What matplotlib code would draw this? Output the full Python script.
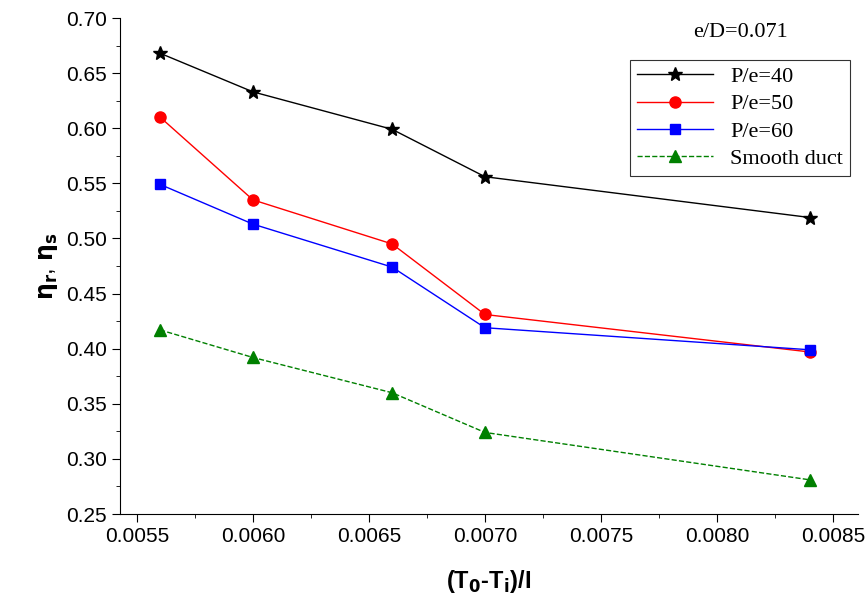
import matplotlib
matplotlib.use("Agg")
import matplotlib.pyplot as plt
from matplotlib.ticker import MultipleLocator, FormatStrFormatter

x = [0.0056, 0.0060, 0.0066, 0.0070, 0.0084]
pe40 = [0.668, 0.633, 0.599, 0.556, 0.519]
pe50 = [0.610, 0.535, 0.495, 0.431, 0.397]
pe60 = [0.549, 0.513, 0.474, 0.419, 0.399]
smooth = [0.417, 0.392, 0.360, 0.324, 0.281]

fig = plt.figure(figsize=(8.67, 6.01), dpi=100)
ax = fig.add_axes([120/867, 1-514/601, 738/867, 496/601])
ax.plot(x, pe40, color='black', marker='*', ms=10, lw=1, label='P/e=40')
ax.plot(x, pe50, color='red', marker='o', ms=8, lw=1, label='P/e=50')
ax.plot(x, pe60, color='blue', marker='s', ms=7, lw=1, label='P/e=60')
ax.plot(x, smooth, color='green', marker='^', ms=8, lw=1, ls='--', label='Smooth duct')
ax.set_xlim(0.005427, 0.008608)
ax.set_ylim(0.25, 0.70)
ax.xaxis.set_major_locator(MultipleLocator(0.0005))
ax.xaxis.set_minor_locator(MultipleLocator(0.00025))
ax.yaxis.set_major_locator(MultipleLocator(0.05))
ax.yaxis.set_minor_locator(MultipleLocator(0.025))
ax.xaxis.set_major_formatter(FormatStrFormatter('%.4f'))
ax.yaxis.set_major_formatter(FormatStrFormatter('%.2f'))
for s in ['top', 'right']:
    ax.spines[s].set_visible(False)
ax.tick_params(which='major', direction='out', length=6, labelsize=15)
ax.tick_params(which='minor', direction='out', length=3)
for lab in ax.get_xticklabels() + ax.get_yticklabels():
    lab.set_fontfamily('Liberation Sans')
ax.set_xlabel('(T$_\\mathbf{0}$-T$_\\mathbf{i}$)/I',
              fontsize=17, fontweight='bold', family='Liberation Sans', labelpad=16)
ax.set_ylabel(r'$\mathbf{\eta_r}$, $\mathbf{\eta_s}$', fontsize=17, family='Liberation Sans')
ax.text(0.0081, 0.683, 'e/D=0.071', fontsize=16, family='Liberation Serif', ha='center')
leg = ax.legend(loc='upper right', bbox_to_anchor=(1 - 8/738, 1 - 42/496), borderaxespad=0,
                prop={'family': 'Liberation Serif', 'size': 16},
                fancybox=False, edgecolor='black', handlelength=3.4, borderpad=0.3, labelspacing=0.3)
leg.get_frame().set_linewidth(0.8)
fig.savefig('out.png', dpi=100)
